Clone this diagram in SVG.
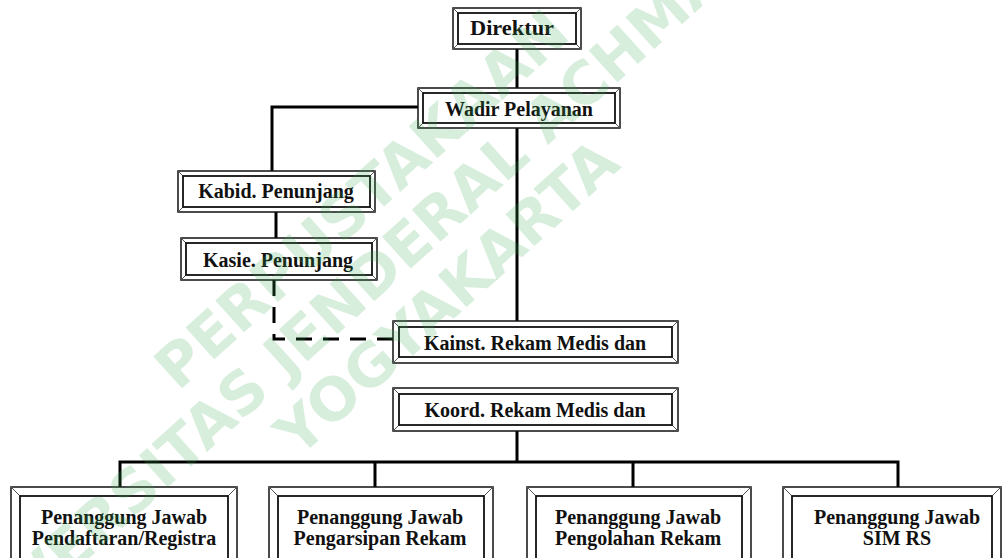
<svg xmlns="http://www.w3.org/2000/svg" width="1003" height="558" viewBox="0 0 1003 558">
<style>
.outer{fill:#fff;stroke:#111;stroke-width:1.5}
.inner{fill:#fff;stroke:#111;stroke-width:1.8}
.bev{fill:none;stroke:#555;stroke-width:1}
.lbl{font-family:"Liberation Serif","Times New Roman",serif;font-weight:bold;font-size:20px;fill:#111;text-anchor:middle}
.conn{fill:none;stroke:#000;stroke-width:3}
.dash{stroke-dasharray:16 11}
.wm{font-family:"DejaVu Sans",sans-serif;font-weight:bold;font-size:59px;fill:#36a852;fill-opacity:0.2}
</style>
<rect width="1003" height="558" fill="#fff"/>
<g id="connectors">
<path class="conn" d="M517,49V88"/>
<path class="conn" d="M517,128V321"/>
<path class="conn" d="M418,107H272V171"/>
<path class="conn" d="M276,212V238"/>
<path class="conn dash" d="M274,280V339H393"/>
<path class="conn" d="M517,431V462"/>
<path class="conn" d="M120,487V462H898V487"/>
<path class="conn" d="M375,462V487"/>
<path class="conn" d="M633,462V487"/>
</g>
<g id="direktur">
<rect class="outer" x="453" y="8" width="128" height="41"/>
<path class="bev" d="M453,8l5,5M581,8l-5,5M453,49l5,-5M581,49l-5,-5"/>
<rect class="inner" x="458" y="13" width="118" height="31"/>
<text class="lbl" x="512" y="35" textLength="84" lengthAdjust="spacingAndGlyphs">Direktur</text>
</g>
<g id="wadir">
<rect class="outer" x="418" y="88" width="202" height="40"/>
<path class="bev" d="M418,88l5,5M620,88l-5,5M418,128l5,-5M620,128l-5,-5"/>
<rect class="inner" x="423" y="93" width="192" height="30"/>
<text class="lbl" x="519" y="116">Wadir Pelayanan</text>
</g>
<g id="kabid">
<rect class="outer" x="178" y="171" width="197" height="41"/>
<path class="bev" d="M178,171l5,5M375,171l-5,5M178,212l5,-5M375,212l-5,-5"/>
<rect class="inner" x="183" y="176" width="187" height="31"/>
<text class="lbl" x="276" y="198">Kabid. Penunjang</text>
</g>
<g id="kasie">
<rect class="outer" x="181" y="238" width="196" height="42"/>
<path class="bev" d="M181,238l5,5M377,238l-5,5M181,280l5,-5M377,280l-5,-5"/>
<rect class="inner" x="186" y="243" width="186" height="32"/>
<text class="lbl" x="278" y="267">Kasie. Penunjang</text>
</g>
<g id="kainst">
<rect class="outer" x="393" y="321" width="285" height="42"/>
<path class="bev" d="M393,321l6,6M678,321l-6,6M393,363l6,-6M678,363l-6,-6"/>
<rect class="inner" x="399" y="327" width="273" height="30"/>
<text class="lbl" x="535" y="350">Kainst. Rekam Medis dan</text>
</g>
<g id="koord">
<rect class="outer" x="393" y="388" width="285" height="43"/>
<path class="bev" d="M393,388l6,6M678,388l-6,6M393,431l6,-6M678,431l-6,-6"/>
<rect class="inner" x="399" y="394" width="273" height="31"/>
<text class="lbl" x="535" y="417">Koord. Rekam Medis dan</text>
</g>
<g id="pj-pendaftaran">
<rect class="outer" x="11" y="487" width="226" height="90"/>
<path class="bev" d="M11,487l9,9M237,487l-9,9"/>
<rect class="inner" x="20" y="496" width="208" height="72"/>
<text class="lbl" x="124" y="524">Penanggung Jawab</text>
<text class="lbl" x="124" y="545">Pendaftaran/Registra</text>
</g>
<g id="pj-pengarsipan">
<rect class="outer" x="269" y="487" width="224" height="90"/>
<path class="bev" d="M269,487l9,9M493,487l-9,9"/>
<rect class="inner" x="278" y="496" width="206" height="72"/>
<text class="lbl" x="380" y="524">Penanggung Jawab</text>
<text class="lbl" x="380" y="545">Pengarsipan Rekam</text>
</g>
<g id="pj-pengolahan">
<rect class="outer" x="527" y="487" width="224" height="90"/>
<path class="bev" d="M527,487l9,9M751,487l-9,9"/>
<rect class="inner" x="536" y="496" width="206" height="72"/>
<text class="lbl" x="638" y="524">Penanggung Jawab</text>
<text class="lbl" x="638" y="545">Pengolahan Rekam</text>
</g>
<g id="pj-sim">
<rect class="outer" x="783" y="487" width="218" height="90"/>
<path class="bev" d="M783,487l9,9M1001,487l-9,9"/>
<rect class="inner" x="792" y="496" width="200" height="72"/>
<text class="lbl" x="897" y="524">Penanggung Jawab</text>
<text class="lbl" x="897" y="545">SIM RS</text>
</g>
<g id="watermark" transform="translate(178,392) rotate(-42)">
<text class="wm" x="0" y="0">PERPUSTAKAAN</text>
<text class="wm" x="-370" y="64">UNIVERSITAS JENDERAL ACHMAD</text>
<text class="wm" x="45" y="130">YOGYAKARTA</text>
</g>
</svg>
